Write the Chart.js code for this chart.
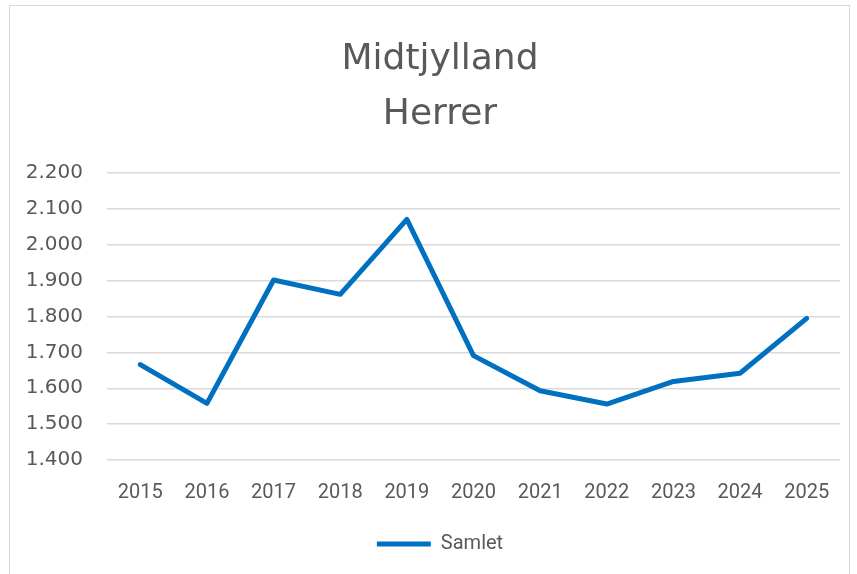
<!DOCTYPE html>
<html>
<head>
<meta charset="utf-8">
<script src="https://cdn.jsdelivr.net/npm/chart.js@4"></script>
<style>
    html, body { margin: 0; padding: 0; background: #fff; }
    #wrap { position: relative; width: 857px; height: 574px; overflow: hidden; }
    #frame { position: absolute; left: 9px; top: 5px; width: 841px; height: 600px; border: 1px solid #d9d9d9; box-sizing: border-box; }
    #chart { position: absolute; left: 0; top: 0; }
</style>
</head>
<body>
<div id="wrap">
    <div id="frame"></div>
    <canvas id="chart" width="857" height="574"></canvas>
</div>
<script>
// data
const years = ['2015', '2016', '2017', '2018', '2019', '2020', '2021', '2022', '2023', '2024', '2025'];
const samlet = [1666, 1558, 1902, 1862, 2071, 1691, 1593, 1556, 1619, 1642, 1795];
const titleLines = ['Midtjylland', 'Herrer'];
const seriesName = 'Samlet';

const grey = '#595959';
const narrow = "'Liberation Sans Narrow', 'Roboto', sans-serif";

// 2200 -> "2.200"
function fmt(v) {
    return Math.floor(v / 1000) + '.' + String(v % 1000).padStart(3, '0');
}

// let the y labels use the space left of the axis box (else they get clipped)
const widenY = {
    id: 'widenY',
    afterLayout(chart) {
        const y = chart.scales.y;
        y.width += y.left;
        y.left = 0;
    }
};

const ctx = document.getElementById('chart').getContext('2d');
new Chart(ctx, {
    type: 'line',
    data: {
        labels: years,
        datasets: [{
            label: seriesName,
            data: samlet,
            borderColor: '#0070C0',
            backgroundColor: '#0070C0',
            borderWidth: 5,
            borderCapStyle: 'round',
            borderJoinStyle: 'round',
            pointRadius: 0,
            pointHoverRadius: 0,
            tension: 0,
            fill: false
        }]
    },
    options: {
        responsive: false,
        animation: false,
        layout: { padding: { left: 40, right: 17, top: 0, bottom: 10 } },
        plugins: {
            title: {
                display: true,
                text: titleLines,
                color: grey,
                font: { family: "'DejaVu Sans', sans-serif", size: 36, weight: 'normal', lineHeight: 1.53 },
                padding: { top: 32, bottom: 31 }
            },
            legend: {
                position: 'bottom',
                labels: {
                    usePointStyle: true,
                    pointStyle: 'line',
                    pointStyleWidth: 54,
                    color: grey,
                    font: { family: narrow, size: 20 },
                    padding: 8
                }
            },
            tooltip: { enabled: false }
        },
        scales: {
            x: {
                offset: true,
                grid: { display: false, drawTicks: false },
                border: { display: false },
                ticks: { color: grey, font: { family: narrow, size: 20 }, padding: 21, maxRotation: 0 }
            },
            y: {
                min: 1400,
                max: 2200,
                grid: { color: '#d9d9d9', lineWidth: 1.5, drawTicks: false },
                border: { display: false },
                ticks: {
                    stepSize: 100,
                    color: grey,
                    font: { family: "'DejaVu Sans', sans-serif", size: 20 },
                    padding: 24,
                    callback: v => fmt(v)
                },
                afterFit: s => { s.width = 67; }
            }
        }
    },
    plugins: [widenY]
});
</script>
</body>
</html>
